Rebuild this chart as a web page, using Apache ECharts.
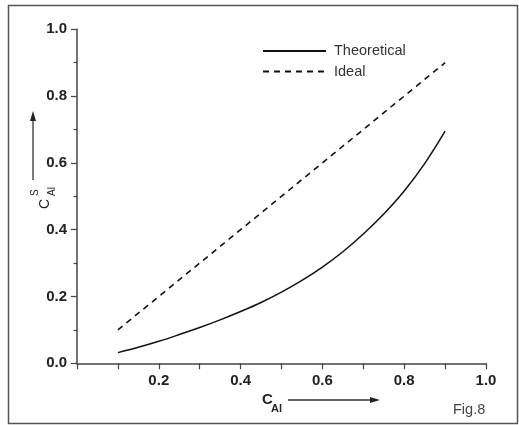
<!DOCTYPE html>
<html>
<head>
<meta charset="utf-8">
<script src="https://cdn.jsdelivr.net/npm/echarts@6/dist/echarts.min.js"></script>
<style>
html,body{margin:0;padding:0;background:#fff;}
#chart{width:519px;height:425px;}
</style>
</head>
<body>
<div id="chart"></div>
<script>
// Data
const xValues = [0.10, 0.15, 0.20, 0.25, 0.30, 0.35, 0.40, 0.45, 0.50, 0.55, 0.60, 0.65, 0.70, 0.75, 0.80, 0.85, 0.90];
const theoretical = [0.032, 0.048, 0.066, 0.086, 0.107, 0.130, 0.155, 0.182, 0.213, 0.248, 0.288, 0.334, 0.387, 0.447, 0.516, 0.598, 0.695];
const idealX = [0.1, 0.9];
const idealY = [0.1, 0.9];
const seriesNames = ['Theoretical', 'Ideal'];
const xTickLabels = ['0.2', '0.4', '0.6', '0.8', '1.0'];
const yTickLabels = ['0.0', '0.2', '0.4', '0.6', '0.8', '1.0'];

const chart = echarts.init(document.getElementById('chart'), null, {renderer: 'canvas'});
const FONT = 'Liberation Sans';
const axisColor = '#444';

function fmt(list) {
  return function (v) {
    const s = v.toFixed(1);
    return list.indexOf(s) >= 0 ? s : '';
  };
}

const option = {
  animation: false,
  backgroundColor: '#fff',
  grid: {left: 77, top: 29.3, right: 33, bottom: 61.7, containLabel: false},
  legend: {
    orient: 'vertical',
    left: 262,
    top: 43.5,
    padding: 0,
    itemWidth: 63,
    itemHeight: 14,
    itemGap: 5.5,
    itemStyle: {opacity: 0},
    data: seriesNames,
    textStyle: {fontFamily: FONT, fontSize: 14.5, color: '#333', padding: [0, 0, 0, 3]}
  },
  xAxis: {
    type: 'value', min: 0, max: 1, interval: 0.1,
    axisLine: {lineStyle: {color: axisColor, width: 1.5}},
    axisTick: {show: true, length: 6, lineStyle: {color: axisColor, width: 1.2}},
    splitLine: {show: false},
    axisLabel: {formatter: fmt(xTickLabels), fontFamily: FONT, fontWeight: 'bold', fontSize: 15, color: '#222', margin: 10}
  },
  yAxis: {
    type: 'value', min: 0, max: 1, interval: 0.2,
    axisLine: {show: true, lineStyle: {color: axisColor, width: 1.5}},
    axisTick: {show: true, length: 6, lineStyle: {color: axisColor, width: 1.2}},
    minorTick: {show: true, splitNumber: 2, length: 3.5, lineStyle: {color: axisColor, width: 1.2}},
    splitLine: {show: false},
    axisLabel: {formatter: fmt(yTickLabels), fontFamily: FONT, fontWeight: 'bold', fontSize: 15, color: '#222', margin: 10}
  },
  series: [
    {
      name: seriesNames[0], type: 'line', smooth: 0.4, symbol: 'none',
      color: '#111',
      lineStyle: {color: '#111', width: 1.5},
      data: xValues.map((x, i) => [x, theoretical[i]])
    },
    {
      name: seriesNames[1], type: 'line', symbol: 'none',
      color: '#111',
      lineStyle: {color: '#111', width: 1.6, type: [6, 5]},
      data: idealX.map((x, i) => [x, idealY[i]])
    }
  ],
  graphic: [
    // outer frame
    {type: 'rect', shape: {x: 8.5, y: 5.5, width: 509, height: 418}, style: {fill: 'none', stroke: '#555', lineWidth: 1.5}, silent: true},
    // x axis title
    {type: 'text', x: 262, y: 392, style: {text: 'C', fontFamily: FONT, fontWeight: 'bold', fontSize: 15, fill: '#222'}},
    {type: 'text', x: 271, y: 403, style: {text: 'Al', fontFamily: FONT, fontWeight: 'bold', fontSize: 11, fill: '#222'}},
    {type: 'line', shape: {x1: 288, y1: 400, x2: 372, y2: 400}, style: {stroke: '#333', lineWidth: 1.3}},
    {type: 'polygon', shape: {points: [[370, 397], [380, 400], [370, 403]]}, style: {fill: '#222'}},
    // y axis title (rotated)
    {type: 'text', x: 38, y: 209, rotation: Math.PI / 2, style: {text: 'C', fontFamily: FONT, fontSize: 14, fill: '#222'}},
    {type: 'text', x: 30.5, y: 196, rotation: Math.PI / 2, style: {text: 'S', fontFamily: FONT, fontSize: 10, fill: '#222'}},
    {type: 'text', x: 47.5, y: 196, rotation: Math.PI / 2, style: {text: 'Al', fontFamily: FONT, fontSize: 10, fill: '#222'}},
    {type: 'line', shape: {x1: 33, y1: 180, x2: 33, y2: 118}, style: {stroke: '#333', lineWidth: 1.3}},
    {type: 'polygon', shape: {points: [[30, 121], [33, 111], [36, 121]]}, style: {fill: '#222'}},
    // figure label
    {type: 'text', x: 453, y: 402, style: {text: 'Fig.8', fontFamily: FONT, fontSize: 14.5, fill: '#444'}}
  ]
};
chart.setOption(option);
</script>
</body>
</html>
